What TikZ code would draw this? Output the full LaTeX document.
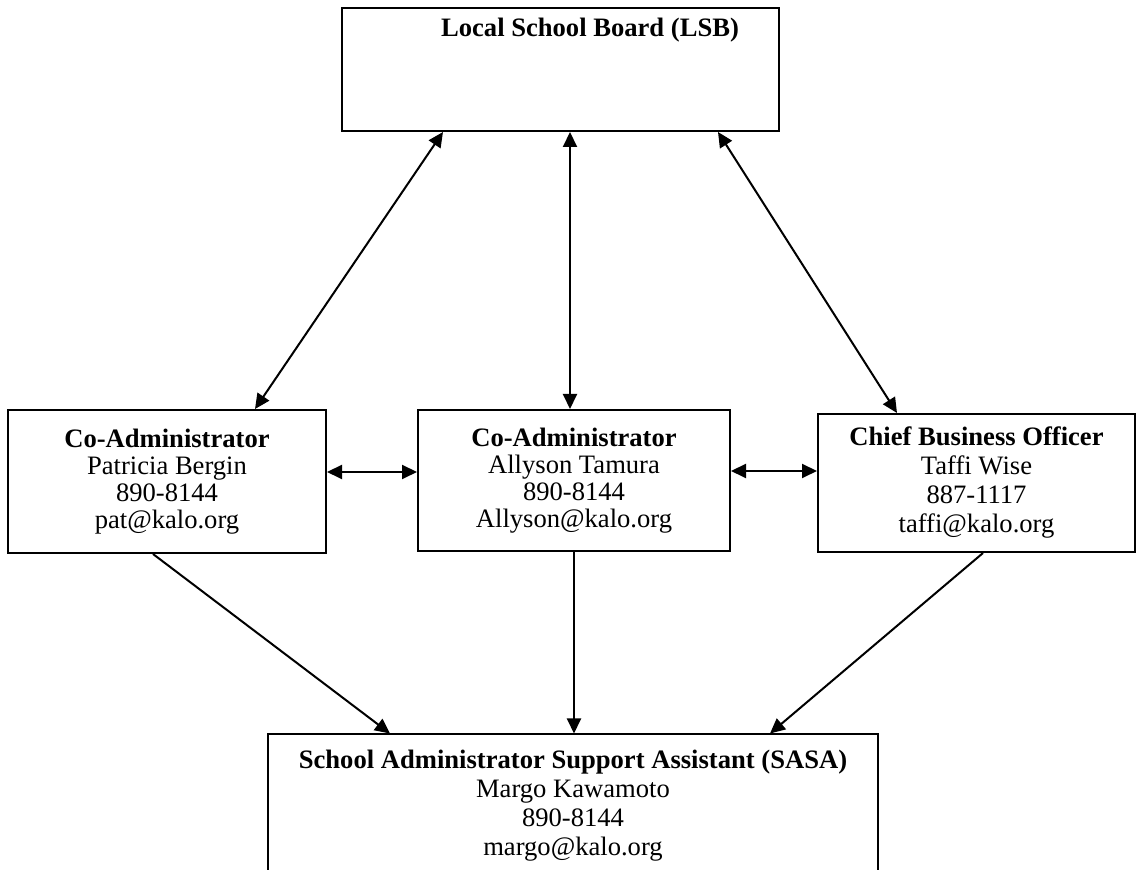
\documentclass[tikz,border=0pt]{standalone}
\usepackage{fontspec}
\setmainfont{Liberation Serif}
\usetikzlibrary{arrows.meta,positioning}

\begin{document}
\begin{tikzpicture}[
  x=0.5pt, y=-0.5pt,
  >={Triangle[length=7.5pt,width=7pt]},
  box/.style={draw, line width=1pt, inner sep=0pt, align=center,
    font=\fontsize{13.3}{13.5}\selectfont},
  loose/.style={font=\fontsize{13.3}{14.5}\selectfont},
  link/.style={line width=1pt, <->},
  down/.style={line width=1pt, ->},
]
  \clip (0,0) rectangle (1137,870);
  \fill[white] (0,0) rectangle (1137,870);

  % Board at the top
  \node[box, minimum width=218.5pt, minimum height=61.5pt] (lsb) at (560.5,69.5) {};
  \node[font=\fontsize{13.3}{14}\selectfont\bfseries] (lsbtitle) at (590,30) {Local School Board (LSB)};

  % Middle row
  \node[box, minimum width=159pt, minimum height=71.5pt] (coadminA) at (167,481.5) {
    \textbf{Co-Administrator}\\
    Patricia Bergin\\
    890-8144\\
    pat@kalo.org
  };
  \node[box, minimum width=156pt, minimum height=70.5pt] (coadminB) at (574,480.5) {
    \textbf{Co-Administrator}\\
    Allyson Tamura\\
    890-8144\\
    Allyson@kalo.org
  };
  \node[box, loose, minimum width=158.5pt, minimum height=69pt] (cbo) at (976.5,483) {
    \textbf{Chief Business Officer}\\
    Taffi Wise\\
    887-1117\\
    taffi@kalo.org
  };

  % Support assistant (cut off at the bottom)
  \node[box, loose, minimum width=305pt, minimum height=71.5pt] (sasa) at (573,806) {
    \textbf{School Administrator Support Assistant (SASA)}\\
    Margo Kawamoto\\
    890-8144\\
    margo@kalo.org
  };

  % Board links
  \draw[link] ([xshift=-58.75pt]lsb.south) -- ([xshift=44pt]coadminA.north);
  \draw[link] ([xshift=-2pt]coadminB.north |- lsb.south) -- ([xshift=-2pt]coadminB.north);
  \draw[link] ([xshift=78.75pt]lsb.south) -- ([xshift=-39.75pt]cbo.north);

  % Links across the row
  \draw[link] ([yshift=4.75pt]coadminA.east) -- ([yshift=4.75pt]coadminA.east -| coadminB.west);
  \draw[link] ([yshift=4.75pt]coadminB.east) -- ([yshift=4.75pt]coadminB.east -| cbo.west);

  % Links down to the assistant
  \draw[down] ([xshift=-7pt]coadminA.south) -- ([xshift=-91.5pt]sasa.north);
  \draw[down] (coadminB.south) -- (coadminB.south |- sasa.north);
  \draw[down] ([xshift=3.25pt]cbo.south) -- ([xshift=98.5pt]sasa.north);
\end{tikzpicture}
\end{document}
